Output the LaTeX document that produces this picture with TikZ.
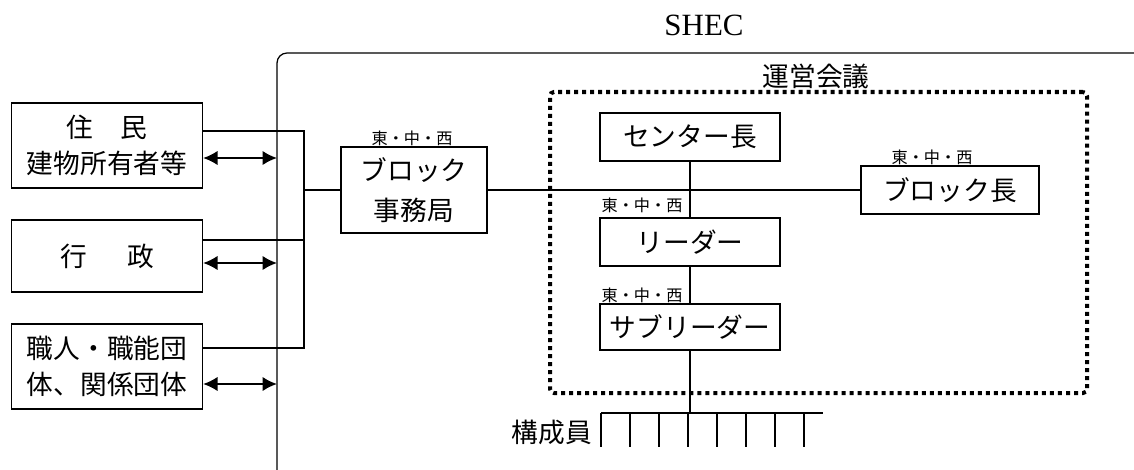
\documentclass[tikz,border=0pt]{standalone}
\usepackage{fontspec}
\newfontfamily\jp{Noto Sans CJK JP}
\newfontfamily\rmlatin{Liberation Serif}
\usetikzlibrary{positioning}
\usetikzlibrary{arrows.meta}

\begin{document}
\begin{tikzpicture}[unit/.style={draw, rectangle, line width=0.9pt, inner sep=2pt, font=\jp\fontsize{19}{25.6}\selectfont},
			tag/.style={inner sep=0pt, font=\jp\fontsize{11.5}{13}\selectfont},
			title/.style={inner sep=0pt, font=\jp\fontsize{19}{24}\selectfont},
			link/.style={draw, line width=1.4pt},
			pair/.style={<->, >={Latex[length=3.6mm,width=3.6mm]}, line width=1.4pt},
			council/.style={draw, line width=2.85pt, dash pattern=on 2.85pt off 2.85pt, rounded corners=0.1cm},
			every text node part/.style={align=center}]
			\useasboundingbox (0,0) rectangle (28.35,-11.75);
			
			\node[inner sep=0pt, font=\rmlatin\fontsize{22}{26}\selectfont] (shec) at (17.6,-0.625) {SHEC};
			\draw[line width=0.9pt, rounded corners=0.25cm] (6.925,-11.8) -- (6.925,-1.325) -- (28.4,-1.325);
			
			\node[unit, minimum width=4.775cm, minimum height=2.125cm](b1) at (2.675,-3.6375) {住　民\\建物所有者等};
			\node[unit, minimum width=4.775cm, minimum height=1.8cm](b2) at (2.675,-6.4) {行\hspace{1.5em}政};
			\node[unit, minimum width=4.775cm, minimum height=2.125cm](b3) at (2.675,-9.1625) {職人・職能団\\体、関係団体};
			
			\coordinate (f1) at (6.925,-3.95);
			\coordinate (f2) at (6.925,-6.575);
			\coordinate (f3) at (6.925,-9.6);
			\draw[pair] (b1.east |- f1) -- (f1);
			\draw[pair] (b2.east |- f2) -- (f2);
			\draw[pair] (b3.east |- f3) -- (f3);
			
			\node[council, minimum width=13.425cm, minimum height=7.525cm](council) at (20.4625,-6.0625) {};
			\node[title](counciltitle) at (20.4,-1.9) {運営会議};
			
			\node[unit, minimum width=3.65cm, minimum height=2.15cm](blk) at (10.35,-4.75) {ブロック\\[2.8pt]事務局};
			\node[tag](blktag) at (10.3,-3.45) {東・中・西};
			
			\coordinate (j1) at (7.6,-3.275);
			\coordinate (j2) at (7.6,-6.0);
			\coordinate (j3) at (7.6,-8.7);
			\draw[link] (b1.east |- j1) -- (j1) -- (j3) -- (b3.east |- j3);
			\draw[link] (b2.east |- j2) -- (j2);
			\draw[link] (blk.west) -- (blk.west -| j1);
			
			\node[unit, minimum width=4.5cm, minimum height=1.2cm](ctr) at (17.25,-3.425) {センター長};
			\node[unit, minimum width=4.45cm, minimum height=1.2cm](bl) at (23.75,-4.75) {ブロック長};
			\node[tag](bltag) at (23.3,-3.925) {東・中・西};
			\node[unit, minimum width=4.5cm, minimum height=1.2cm](ldr) at (17.25,-6.05) {リーダー};
			\node[tag](ldrtag) at (16.05,-5.125) {東・中・西};
			\node[unit, minimum width=4.5cm, minimum height=1.15cm](sub) at (17.25,-8.175) {サブリーダー};
			\node[tag](subtag) at (16.05,-7.375) {東・中・西};
			
			\draw[link] (blk.east) -- (bl.west);
			\draw[link] (ctr.south) -- (ldr.north);
			\draw[link] (ldr.south) -- (sub.north);
			
			\coordinate (comb) at (15.025,-10.325);
			\draw[link] (sub.south) -- (sub.south |- comb);
			\draw[link] (comb) -- ++(5.55,0);
			\foreach \i in {0,...,7}
				\draw[link] ([xshift=\i*0.725cm]comb) -- ++(0,-0.85);
			\node[title](members) at (13.8,-10.8) {構成員};
		\end{tikzpicture}
\end{document}
